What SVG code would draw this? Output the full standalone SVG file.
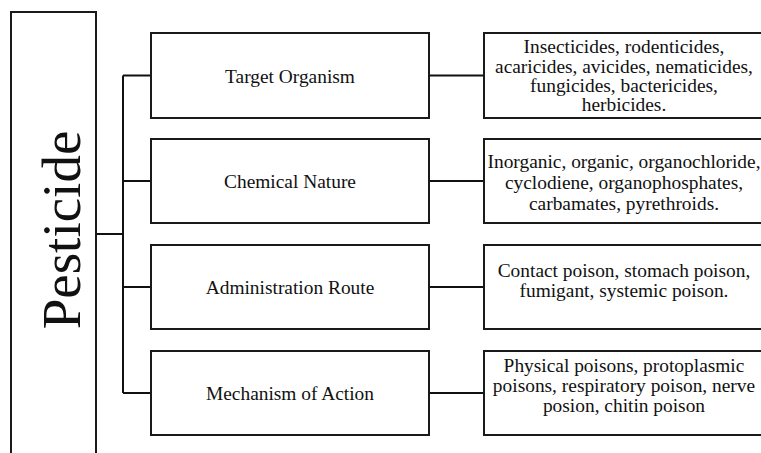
<svg xmlns="http://www.w3.org/2000/svg" width="761" height="453" viewBox="0 0 761 453">
<style>
.box{fill:#fff;stroke:#1a1a1a;stroke-width:2}
.ln{fill:none;stroke:#111;stroke-width:2}
text{font-family:"Liberation Serif","Times New Roman",serif;font-size:19.4px;fill:#111;text-anchor:middle}
.big{font-size:55px}
</style>
<rect width="761" height="453" fill="#fff"/>
<g id="connectors">
<path class="ln" d="M96 234H123M123 75.5V393M123 75.5H151M123 181H151M123 287H151M123 393H151"/>
<path class="ln" d="M429 75.5H484M429 181H484M429 287H484M429 393H484"/>
</g>
<g id="pesticide">
<rect class="box" x="11" y="12" width="85" height="460"/>
<text class="big" transform="translate(80,230) rotate(-90)">Pesticide</text>
</g>
<g id="target-organism">
<rect class="box" x="151" y="33" width="278" height="85"/>
<text x="290" y="83">Target Organism</text>
</g>
<g id="chemical-nature">
<rect class="box" x="151" y="139" width="278" height="84"/>
<text x="290" y="188">Chemical Nature</text>
</g>
<g id="administration-route">
<rect class="box" x="151" y="245" width="278" height="84"/>
<text x="290" y="294">Administration Route</text>
</g>
<g id="mechanism-of-action">
<rect class="box" x="151" y="351" width="278" height="84"/>
<text x="290" y="400">Mechanism of Action</text>
</g>
<g id="target-organism-detail">
<rect class="box" x="484" y="33" width="290" height="85"/>
<text x="624" y="53">Insecticides, rodenticides,</text>
<text x="624" y="72.5">acaricides, avicides, nematicides,</text>
<text x="624" y="92">fungicides, bactericides,</text>
<text x="624" y="111">herbicides.</text>
</g>
<g id="chemical-nature-detail">
<rect class="box" x="484" y="139" width="290" height="84"/>
<text x="624" y="168">Inorganic, organic, organochloride,</text>
<text x="624" y="189">cyclodiene, organophosphates,</text>
<text x="624" y="210">carbamates, pyrethroids.</text>
</g>
<g id="administration-route-detail">
<rect class="box" x="484" y="245" width="290" height="84"/>
<text x="624" y="277">Contact poison, stomach poison,</text>
<text x="624" y="297">fumigant, systemic poison.</text>
</g>
<g id="mechanism-of-action-detail">
<rect class="box" x="484" y="351" width="290" height="84"/>
<text x="624" y="372">Physical poisons, protoplasmic</text>
<text x="624" y="392">poisons, respiratory poison, nerve</text>
<text x="624" y="412">posion, chitin poison</text>
</g>
</svg>
